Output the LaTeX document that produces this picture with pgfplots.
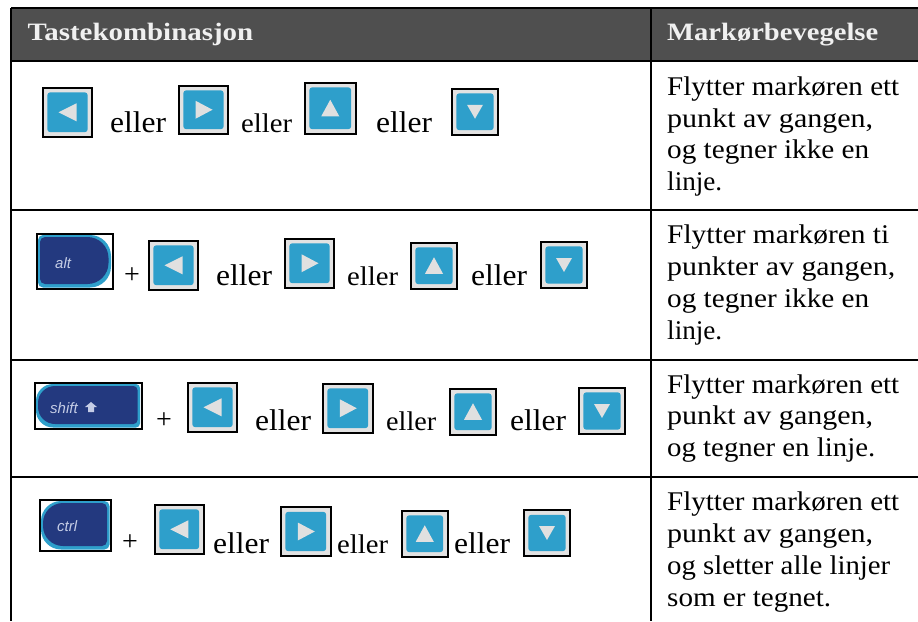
\documentclass[border=0pt]{standalone}
\usepackage{graphicx}
\usepackage{fontspec}
\setmainfont{Liberation Serif}
\setsansfont{Liberation Sans}
\usepackage{pgfplots}
\pgfplotsset{compat=1.18}
\definecolor{headbg}{HTML}{4F4F4F}
\definecolor{headtx}{HTML}{F0F0F0}
\definecolor{keybg}{HTML}{E2E2E2}
\definecolor{keybl}{HTML}{2E9FCB}
\definecolor{navy}{HTML}{23397F}
\definecolor{lav}{HTML}{C5CDE6}
\definecolor{tri}{HTML}{E0E0E0}
\newcommand{\rect}[5]{\addplot[forget plot,#5] coordinates {(#1,#2) (#3,#2) (#3,#4) (#1,#4)} -- cycle;}
\newcommand{\hl}[3]{\addplot[forget plot,black,line width=1.7pt] coordinates {(#1,#3) (#2,#3)};}
\newcommand{\vl}[3]{\addplot[forget plot,black,line width=1.7pt] coordinates {(#1,#2) (#1,#3)};}
% dir: 0 left, 1 right, 2 up, 3 down
\newcommand{\key}[5]{%
 \pgfmathsetmacro\ox{#1+0.7}\pgfmathsetmacro\px{#3-0.7}%
 \pgfmathsetmacro\oy{#2+0.7}\pgfmathsetmacro\py{#4-0.7}%
 \edef\tmp{\noexpand\addplot[forget plot,draw=black,line width=2.1pt,fill=keybg] coordinates {(\ox,\oy) (\px,\oy) (\px,\py) (\ox,\py)} -- cycle;}\tmp
 \pgfmathsetmacro\ax{#1+5.3}\pgfmathsetmacro\bx{#3-5.3}%
 \pgfmathsetmacro\ay{#2+5.3}\pgfmathsetmacro\by{#4-5.3}%
 \pgfmathsetmacro\cx{(#1+#3)/2}\pgfmathsetmacro\cy{(#2+#4)/2}%
 \edef\tmp{\noexpand\addplot[forget plot,draw=none,fill=keybl,rounded corners=3pt] coordinates {(\ax,\ay) (\bx,\ay) (\bx,\by) (\ax,\by)} -- cycle;}\tmp
 \ifcase#5\relax
  \pgfmathsetmacro\xl{\cx-9}\pgfmathsetmacro\xr{\cx+9}\pgfmathsetmacro\yt{\cy-9}\pgfmathsetmacro\yb{\cy+9}%
  \edef\tmp{\noexpand\addplot[forget plot,draw=none,fill=tri] coordinates {(\xr,\yt) (\xr,\yb) (\xl,\cy)} -- cycle;}\tmp
 \or
  \pgfmathsetmacro\xl{\cx-8}\pgfmathsetmacro\xr{\cx+9}\pgfmathsetmacro\yt{\cy-9}\pgfmathsetmacro\yb{\cy+9}%
  \edef\tmp{\noexpand\addplot[forget plot,draw=none,fill=tri] coordinates {(\xl,\yt) (\xl,\yb) (\xr,\cy)} -- cycle;}\tmp
 \or
  \pgfmathsetmacro\xl{\cx-9}\pgfmathsetmacro\xr{\cx+9}\pgfmathsetmacro\yt{\cy-8.5}\pgfmathsetmacro\yb{\cy+8}%
  \edef\tmp{\noexpand\addplot[forget plot,draw=none,fill=tri] coordinates {(\xl,\yb) (\xr,\yb) (\cx,\yt)} -- cycle;}\tmp
 \or
  \pgfmathsetmacro\xl{\cx-8}\pgfmathsetmacro\xr{\cx+8}\pgfmathsetmacro\yt{\cy-7}\pgfmathsetmacro\yb{\cy+7}%
  \edef\tmp{\noexpand\addplot[forget plot,draw=none,fill=tri] coordinates {(\xl,\yt) (\xr,\yt) (\cx,\yb)} -- cycle;}\tmp
 \fi}
% text line: x, baseline y, right x, size, text
\newcommand{\tl}[5]{%
 \node[anchor=base west,inner sep=0pt] at (axis cs:#1,#2) {\resizebox{\dimexpr#3pt-#1pt\relax}{\height}{\fontsize{#4}{#4}\selectfont #5}};}
% rounded body with one radius on the left, another on the right
\newcommand{\body}[7]{%
 \fill[#7] (axis cs:{(#1)+#5},{#2}) -- (axis cs:{(#3)-#6},{#2})
  .. controls (axis cs:{(#3)-0.45*#6},{#2}) and (axis cs:{#3},{(#2)+0.45*#6}) .. (axis cs:{#3},{(#2)+#6})
  -- (axis cs:{#3},{(#4)-#6})
  .. controls (axis cs:{#3},{(#4)-0.45*#6}) and (axis cs:{(#3)-0.45*#6},{#4}) .. (axis cs:{(#3)-#6},{#4})
  -- (axis cs:{(#1)+#5},{#4})
  .. controls (axis cs:{(#1)+0.45*#5},{#4}) and (axis cs:{#1},{(#4)-0.45*#5}) .. (axis cs:{#1},{(#4)-#5})
  -- (axis cs:{#1},{(#2)+#5})
  .. controls (axis cs:{#1},{(#2)+0.45*#5}) and (axis cs:{(#1)+0.45*#5},{#2}) .. cycle;}
% special key: x0,y0,x1,y1,left radius,right radius,label,label x,label baseline
\newcommand{\spkey}[9]{%
 \body{#1+1.5}{#2+1.5}{#3-1.5}{#4-1.5}{#5}{#6}{keybl}%
 \body{#1+3.5}{#2+3.5}{#3-4}{#4-5}{#5}{#6}{navy}%
 \rect{#1}{#2}{#3}{#4}{draw=black,line width=2pt}%
 \node[anchor=base west,inner sep=0pt,text=lav,font=\sffamily\itshape\fontsize{15}{15}\selectfont] at (axis cs:#8,#9) {#7};}
\newcommand{\plus}[2]{\node[anchor=center,inner sep=0pt,font=\fontsize{28}{28}\selectfont] at (axis cs:#1,#2) {+};}
\begin{document}
\begin{tikzpicture}
\begin{axis}[
  scale only axis, width=918pt, height=621pt,
  xmin=0, xmax=918, ymin=0, ymax=621, y dir=reverse,
  hide axis, clip=true]
\rect{0}{0}{918}{621}{draw=none,fill=white}
\rect{11}{8}{918}{61}{draw=none,fill=headbg}
% rules
\hl{11}{918}{8}
\hl{11}{918}{61}
\hl{11}{918}{210}
\hl{11}{918}{360}
\hl{11}{918}{477}
\vl{11}{8}{621}
\vl{651}{8}{621}
% header
\node[anchor=base west,inner sep=0pt,text=headtx] at (axis cs:27.5,40.5) {\resizebox{225.5pt}{\height}{\fontsize{25}{25}\selectfont\bfseries Tastekombinasjon}};
\node[anchor=base west,inner sep=0pt,text=headtx] at (axis cs:667,40.5) {\resizebox{211pt}{\height}{\fontsize{25}{25}\selectfont\bfseries Markørbevegelse}};
% row 1
\key{42}{87}{93}{137.5}{0}
\tl{110}{132}{166}{30}{eller}
\key{178}{85}{229}{134.5}{1}
\tl{241}{132}{292}{27}{eller}
\key{304}{82}{356.5}{134.5}{2}
\tl{376}{132}{432}{30}{eller}
\key{451}{88}{499}{135.5}{3}
% row 2
\spkey{36.5}{233.5}{112.5}{289}{5}{21}{alt}{55}{268}
\plus{132}{276}
\key{148}{240}{199}{290.5}{0}
\tl{216}{285}{272}{30}{eller}
\key{284}{238}{335}{288.5}{1}
\tl{347}{285}{398}{27}{eller}
\key{410}{242}{458}{289.5}{2}
\tl{471}{285}{527}{30}{eller}
\key{540}{241}{588}{289}{3}
% row 3
\spkey{34.5}{382.5}{141.5}{429}{17}{4}{shift}{50}{413}
\addplot[forget plot,draw=none,fill=lav] coordinates {(88,407) (88,412) (94,412) (94,407) (97,407) (91,402) (85,407)} -- cycle;
\plus{164}{421}
\key{187}{382}{238}{432.5}{0}
\tl{255}{430}{311}{30}{eller}
\key{322}{383}{373.5}{433.5}{1}
\tl{386}{430}{436}{27}{eller}
\key{449}{388}{497}{435.5}{2}
\tl{510}{430}{566}{30}{eller}
\key{578}{387}{626}{435}{3}
% row 4
\spkey{39.5}{499.5}{111}{551}{20}{5}{ctrl}{57}{531}
\plus{130}{543}
\key{154}{504}{204.5}{554.5}{0}
\tl{213}{553}{269}{30}{eller}
\key{280}{506.5}{331.5}{556.5}{1}
\tl{337}{553}{388}{27}{eller}
\key{401}{510}{448.5}{557.5}{2}
\tl{454}{553}{510}{30}{eller}
\key{523}{509.5}{571}{556.5}{3}
% right column
\tl{667}{95}{899}{27}{Flytter markøren ett}
\tl{667}{127}{873}{27}{punkt av gangen,}
\tl{667}{158}{869}{27}{og tegner ikke en}
\tl{667}{190}{722}{27}{linje.}
\tl{667}{243}{889}{27}{Flytter markøren ti}
\tl{667}{275}{895}{27}{punkter av gangen,}
\tl{667}{307}{869}{27}{og tegner ikke en}
\tl{667}{339}{722}{27}{linje.}
\tl{667}{393}{899}{27}{Flytter markøren ett}
\tl{667}{424}{873}{27}{punkt av gangen,}
\tl{667}{456}{875}{27}{og tegner en linje.}
\tl{667}{510}{899}{27}{Flytter markøren ett}
\tl{667}{542}{873}{27}{punkt av gangen,}
\tl{667}{574}{890}{27}{og sletter alle linjer}
\tl{667}{606}{831}{27}{som er tegnet.}
\end{axis}
\end{tikzpicture}
\end{document}
